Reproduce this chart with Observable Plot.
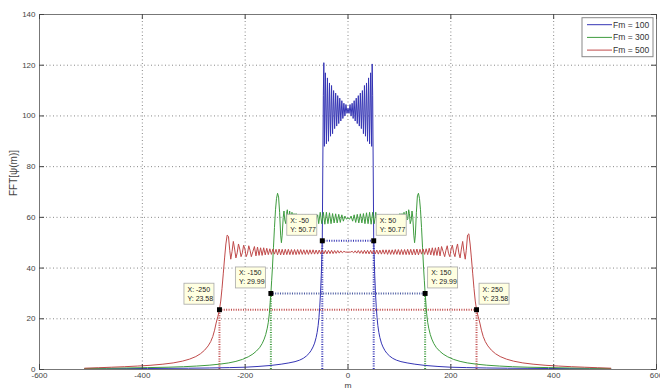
<!DOCTYPE html>
<html><head><meta charset="utf-8">
<script src="https://cdn.jsdelivr.net/npm/d3@7"></script>
<script src="https://cdn.jsdelivr.net/npm/@observablehq/plot@0.6"></script>
<style>body{margin:0;background:#fff} #chart{width:660px;height:388px}</style>
</head><body><div id="chart"></div>
<script>
const seriesNames = ["Fm = 100", "Fm = 300", "Fm = 500"];
const seriesColors = ["#3535b5", "#3f9c3f", "#c04a4a"];
const xTicks = [-600, -400, -200, 0, 200, 400, 600];
const yTicks = [0, 20, 40, 60, 80, 100, 120, 140];

// Fm = 100 (blue)
const fm100Left = [[-512,0.3],[-470,0.3],[-430,0.35],[-390,0.4],[-350,0.45],[-310,0.5],[-270,0.6],[-230,0.75],[-200,0.9],[-175,1.2],[-150,1.6],[-130,2.1],[-115,2.6],[-103,3.1],[-94,3.7],[-87,4.4],[-81,5.3],[-76,6.3],[-72,7.4],[-68,8.9],[-65,10.4],[-62,12.6],[-60,14.6],[-58,17.4],[-56.5,20.5],[-55,24.5],[-53.5,30],[-52,37],[-51,43.5],[-50,50.77],[-49,80],[-48,108],[-47,121]];
const fm100Mid = [[-46,88],[-44,117],[-42,89],[-40,115],[-38,90],[-36,113],[-34,92],[-32,112],[-30,93],[-28,110],[-26,95],[-24,109],[-22,96],[-20,108],[-18,97],[-16,107],[-14,98],[-12,106],[-10,99],[-8,105],[-6,100],[-4,104.5],[-2,101],[0,103],[2,101],[4,104.5],[6,100],[8,105],[10,99],[12,106],[14,98],[16,107],[18,97],[20,108],[22,96],[24,109],[26,95],[28,110],[30,93],[32,112],[34,92],[36,113],[38,90],[40,115],[42,89],[44,117],[46,88]];
const fm100Right = [[47,120.5],[48,108],[49,80],[50,50.77],[51,43.5],[52,37],[53.5,30],[55,24.5],[56.5,20.5],[58,17.4],[60,14.6],[62,12.6],[65,10.4],[68,8.9],[72,7.4],[76,6.3],[81,5.3],[87,4.4],[94,3.7],[103,3.1],[115,2.6],[130,2.1],[150,1.6],[175,1.2],[200,0.9],[230,0.75],[270,0.6],[310,0.5],[350,0.45],[390,0.4],[430,0.35],[470,0.3],[511,0.3]];

// Fm = 300 (green)
const fm300Left = [[-512,0.4],[-470,0.5],[-430,0.6],[-390,0.75],[-350,0.9],[-320,1.1],[-295,1.35],[-270,1.7],[-250,2.1],[-232,2.6],[-218,3.2],[-205,4.0],[-194,5.0],[-185,6.1],[-178,7.3],[-172,8.6],[-167,10.2],[-163,12],[-160,13.8],[-157,16.3],[-155,18.6],[-153,22],[-151.5,26],[-150,29.99],[-148.5,35],[-147,40],[-145,48],[-143,56],[-141,63],[-139,67.5],[-137,69.5],[-135,68],[-133,62],[-131,53],[-129.5,50],[-128,53],[-126,60],[-124.5,62.5],[-123,59],[-121,57.5],[-119.5,61.5],[-118,63],[-116.5,59.5],[-115,59],[-113.5,62.5],[-112,60],[-110.5,59.5],[-109,62],[-107,59.5],[-105,61.5],[-103,59.5],[-101,61.5],[-98,59.5],[-95,61],[-92,59.5],[-89,61],[-86,59.5],[-83,61],[-80,59.5],[-77,61],[-74,59.5],[-71,60.8],[-68,59.5],[-65,60.8],[-62,59.3],[-59,61]];
const fm300Mid = [[-57,57.5],[-54,62],[-51,57.5],[-48,62],[-45,57.3],[-42,62],[-39,57.5],[-36,61.8],[-33,57.5],[-30,61.5],[-27,57.8],[-24,61.4],[-21,57.8],[-18,61.2],[-15,58],[-12,61],[-9,58.5],[-6,60.5],[-3,59.3],[0,59.8],[3,59.3],[6,60.5],[9,58.5],[12,61],[15,58],[18,61.2],[21,57.8],[24,61.4],[27,57.8],[30,61.5],[33,57.5],[36,61.8],[39,57.5],[42,62],[45,57.3],[48,62],[51,57.5],[54,62],[57,57.5]];
const fm300Right = [[59,61],[62,59.3],[65,60.8],[68,59.5],[71,60.8],[74,59.5],[77,61],[80,59.5],[83,61],[86,59.5],[89,61],[92,59.5],[95,61],[98,59.5],[101,61.5],[103,59.5],[105,61.5],[107,59.5],[109,62],[110.5,59.5],[112,60],[113.5,62.5],[115,59],[116.5,59.5],[118,63],[119.5,61.5],[121,57.5],[123,59],[124.5,62.5],[126,60],[128,53],[129.5,50],[131,53],[133,62],[135,68.5],[137,69.5],[139,67.5],[141,63],[143,56],[145,48],[147,40],[148.5,35],[150,29.99],[151.5,26],[153,22],[155,18.6],[157,16.3],[160,13.8],[163,12],[167,10.2],[172,8.6],[178,7.3],[185,6.1],[194,5.0],[205,4.0],[218,3.2],[232,2.6],[250,2.1],[270,1.7],[295,1.35],[320,1.1],[350,0.9],[390,0.75],[430,0.6],[470,0.5],[511,0.4]];

// Fm = 500 (red)
const fm500Left = [[-512,0.5],[-485,0.7],[-460,0.9],[-435,1.1],[-410,1.35],[-385,1.65],[-360,2.1],[-340,2.6],[-322,3.3],[-308,4.1],[-296,5.1],[-287,6.2],[-279,7.6],[-272,9.3],[-267,11],[-263,13],[-259.5,15.5],[-256.5,18.3],[-253,21],[-250,23.58],[-247.5,27],[-245,32],[-242.5,38],[-240,44],[-237.5,49.5],[-235,53],[-232.5,52.5],[-230,47],[-228,43.5],[-225.5,46.5],[-223,50.5],[-220.5,47.5],[-218,44],[-215.5,46],[-213,49.5],[-210.5,47.5],[-208,44.5],[-205.5,46],[-203,49],[-200.5,47.5],[-198,44.5],[-195.5,45.8],[-193,48.8],[-190.5,47],[-188,44.5],[-185,46.5],[-182,48.5],[-179,44.8],[-176,48.3],[-173,45],[-170,48],[-167,45],[-164,48],[-161,45.2],[-158,47.8],[-155,45.3],[-152,47.6],[-149,45.4],[-146,47.5],[-143,45.5],[-140,47.4]];
const fm500Mid = [[-137,45.2],[-134,47.5],[-131,45.2],[-128,47.4],[-125,45.2],[-122,47.4],[-119,45.3],[-116,47.4],[-113,45.3],[-110,47.3],[-107,45.3],[-104,47.3],[-101,45.3],[-98,47.3],[-95,45.4],[-92,47.3],[-89,45.4],[-86,47.2],[-83,45.4],[-80,47.2],[-77,45.4],[-74,47.2],[-71,45.5],[-68,47.2],[-65,45.5],[-62,47.1],[-59,45.5],[-56,47.1],[-53,45.6],[-50,47.1],[-47,45.6],[-44,47],[-41,45.6],[-38,47],[-35,45.7],[-32,47],[-29,45.7],[-26,46.9],[-23,45.8],[-20,46.9],[-17,45.9],[-14,46.8],[-11,46],[-8,46.6],[-5,46.3],[0,46.3],[5,46.3],[8,46.6],[11,46],[14,46.8],[17,45.9],[20,46.9],[23,45.8],[26,46.9],[29,45.7],[32,47],[35,45.7],[38,47],[41,45.6],[44,47],[47,45.6],[50,47.1],[53,45.6],[56,47.1],[59,45.5],[62,47.1],[65,45.5],[68,47.2],[71,45.5],[74,47.2],[77,45.4],[80,47.2],[83,45.4],[86,47.2],[89,45.4],[92,47.3],[95,45.4],[98,47.3],[101,45.3],[104,47.3],[107,45.3],[110,47.3],[113,45.3],[116,47.4],[119,45.3],[122,47.4],[125,45.2],[128,47.4],[131,45.2],[134,47.5],[137,45.2]];
const fm500Right = [[140,47.4],[143,45.5],[146,47.5],[149,45.4],[152,47.6],[155,45.3],[158,47.8],[161,45.2],[164,48],[167,45],[170,48],[173,45],[176,48.3],[179,44.8],[182,48.5],[185,46.5],[188,44.5],[190.5,47],[193,48.8],[195.5,45.8],[198,44.5],[200.5,47.5],[203,49],[205.5,46],[208,44.5],[210.5,47.5],[213,49.5],[215.5,46],[218,44],[220.5,47.5],[223,50.5],[225.5,46.5],[228,43.5],[230,47],[232.5,53],[235,53.5],[237.5,49.5],[240,44],[242.5,38],[245,32],[247.5,27],[250,23.58],[253,21],[256.5,18.3],[259.5,15.5],[263,13],[267,11],[272,9.3],[279,7.6],[287,6.2],[296,5.1],[308,4.1],[322,3.3],[340,2.6],[360,2.1],[385,1.65],[410,1.35],[435,1.1],[460,0.9],[485,0.7],[511,0.5]];

// data tips
const tipM = [-50, 50, -150, 150, -250, 250];
const tipY = [50.77, 50.77, 29.99, 29.99, 23.58, 23.58];
const tipSeries = [0, 0, 1, 1, 2, 2];
const tipDropColors = ["#3535b5", "#3f9c3f", "#c04a4a"];
const tipSpanColors = ["#3535b5", "#4a5aa0", "#c04a4a"];

const seriesPoints = [
  [...fm100Left, ...fm100Mid, ...fm100Right],
  [...fm300Left, ...fm300Mid, ...fm300Right],
  [...fm500Left, ...fm500Mid, ...fm500Right]
];
const rows = seriesPoints.flatMap((pts, i) => pts.map(([m, v]) => ({m, v, s: i})));
const tips = tipM.map((m, i) => ({m, v: tipY[i], s: tipSeries[i]}));
const spans = tips.filter(t => t.m < 0).map(t => ({x1: t.m, x2: -t.m, v: t.v, s: t.s}));

const W = 660, H = 388, ML = 39, MR = 4, MT = 14, MB = 19;
const FW = W - ML - MR, FH = H - MT - MB, TK = 5;
const font = "'Liberation Sans', Arial, Helvetica, sans-serif";

const plot = Plot.plot({
  width: W, height: H,
  marginLeft: ML, marginRight: MR, marginTop: MT, marginBottom: MB,
  style: {fontFamily: font, fontSize: "8px", color: "#444", background: "#fff", overflow: "visible"},
  x: {domain: [xTicks[0], xTicks[xTicks.length - 1]], ticks: xTicks, tickSize: 0, tickPadding: 3, tickFormat: d => String(d), label: null},
  y: {domain: [yTicks[0], yTicks[yTicks.length - 1]], ticks: yTicks, tickSize: 0, tickPadding: 4, tickFormat: d => String(d), label: null},
  marks: [
    Plot.ruleX(xTicks.slice(1, -1), {stroke: "#888", strokeDasharray: "1,2.5"}),
    Plot.ruleY(yTicks.slice(1, -1), {stroke: "#888", strokeDasharray: "1,2.5"}),
    Plot.ruleX(tips, {x: "m", y1: 0, y2: "v", stroke: d => tipDropColors[d.s], strokeWidth: 2, strokeDasharray: "1,1.4"}),
    Plot.ruleY(spans, {y: "v", x1: "x1", x2: "x2", stroke: d => tipSpanColors[d.s], strokeWidth: 2, strokeDasharray: "1,1.4"}),
    ...seriesPoints.map((pts, i) => Plot.line(rows.filter(r => r.s === i), {x: "m", y: "v", stroke: seriesColors[i], strokeWidth: 1})),
    Plot.dot(tips, {x: "m", y: "v", symbol: "square", r: 2.8, fill: "#000"}),
    Plot.frame({stroke: "#777"}),
    Plot.ruleX(xTicks, {insetTop: FH - TK, stroke: "#444"}),
    Plot.ruleX(xTicks, {insetBottom: FH - TK, stroke: "#444"}),
    Plot.ruleY(yTicks, {insetRight: FW - TK, stroke: "#444"}),
    Plot.ruleY(yTicks, {insetLeft: FW - TK, stroke: "#444"}),
    Plot.text(["m"], {text: d => d, frameAnchor: "bottom", dy: 19, lineAnchor: "bottom", fontSize: 8.5, fill: "#444"}),
    Plot.text(["FFT[ψ(m)]"], {text: d => d, frameAnchor: "left", dx: -26, dy: 4, rotate: -90, fontSize: 10, fill: "#444"})
  ]
});
document.getElementById("chart").appendChild(plot);

// data tip boxes (positioned through the plot's scales)
const sx = plot.scale("x"), sy = plot.scale("y");
const svg = d3.select(plot);
const tg = svg.append("g").attr("font-family", font).attr("font-size", 7).attr("fill", "#222").attr("text-anchor", "start");
tips.forEach(t => {
  const px = sx.apply(t.m), py = sy.apply(t.v);
  const bw = 30, bh = 21;
  const bx = t.m < 0 ? px - 5 - bw : px + 3;
  const by = py - 5 - bh;
  const g = tg.append("g").attr("transform", `translate(${bx},${by})`);
  g.append("rect").attr("width", bw).attr("height", bh).attr("fill", "#ffffe1").attr("stroke", "#a8a8a8").attr("stroke-width", 0.8);
  g.append("text").attr("x", 3.5).attr("y", 8.5).attr("text-anchor", "start").text(`X: ${t.m}`);
  g.append("text").attr("x", 3.5).attr("y", 17.5).attr("text-anchor", "start").text(`Y: ${t.v}`);
});

// legend inside the axes, top-right
const xr = sx.range, yr = sy.range;
const lw = 71, lh = 39;
const lx = Math.max(...xr) - 3 - lw, ly = Math.min(...yr) + 3.7;
const lg = svg.append("g").attr("transform", `translate(${lx},${ly})`).attr("font-family", font).attr("font-size", 8.5).attr("text-anchor", "start");
lg.append("rect").attr("width", lw).attr("height", lh).attr("fill", "#fff").attr("stroke", "#888").attr("stroke-width", 1);
seriesNames.forEach((name, i) => {
  const yy = 7 + i * 12.7;
  lg.append("line").attr("x1", 5).attr("x2", 30).attr("y1", yy).attr("y2", yy).attr("stroke", seriesColors[i]).attr("stroke-width", 1);
  lg.append("text").attr("x", 31).attr("y", yy).attr("dy", "0.35em").attr("text-anchor", "start").attr("fill", "#333").text(name);
});
</script>
</body></html>
